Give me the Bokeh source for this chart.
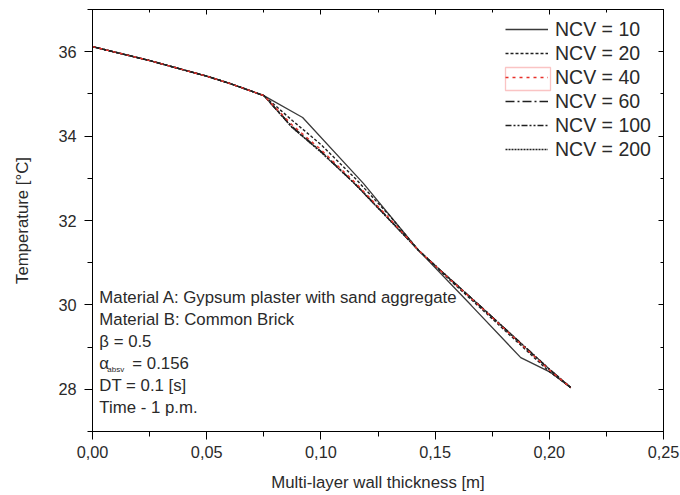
from bokeh.plotting import figure
from bokeh.models import (LinearAxis, SingleIntervalTicker, CustomJSTickFormatter,
                          Legend, LegendItem, Label, BoxAnnotation, Range1d,
                          CustomLabelingPolicy)
from bokeh.embed import file_html
from bokeh.resources import INLINE

# ---------------- data ----------------
x_ncv10 = [0, 0.025, 0.05, 0.06, 0.075, 0.092, 0.1186, 0.1428, 0.1658, 0.1875, 0.2006, 0.2094]
t_ncv10 = [36.12, 35.79, 35.42, 35.25, 34.96, 34.44, 32.88, 31.29, 29.99, 28.75, 28.40, 28.04]

x_fine = [0, 0.025, 0.05, 0.06, 0.075, 0.0875, 0.1, 0.115, 0.13, 0.1428, 0.155, 0.17, 0.185, 0.2, 0.2094]
t_ncv20 = [36.12, 35.79, 35.42, 35.25, 34.96, 34.37, 33.80, 33.00, 32.12, 31.29, 30.66, 29.92, 29.17, 28.42, 28.04]
t_ncv40 = [36.12, 35.79, 35.42, 35.25, 34.96, 34.26, 33.68, 32.90, 32.05, 31.29, 30.68, 29.95, 29.20, 28.46, 28.04]
t_ncv60 = [36.12, 35.79, 35.42, 35.25, 34.96, 34.22, 33.64, 32.87, 32.03, 31.29, 30.69, 29.96, 29.21, 28.47, 28.04]
t_ncv100 = [36.12, 35.79, 35.42, 35.25, 34.96, 34.20, 33.63, 32.86, 32.02, 31.29, 30.69, 29.96, 29.22, 28.48, 28.04]
t_ncv200 = [36.12, 35.79, 35.42, 35.25, 34.96, 34.20, 33.62, 32.86, 32.01, 31.29, 30.69, 29.96, 29.22, 28.48, 28.04]

legend_labels = ["NCV = 10", "NCV = 20", "NCV = 40", "NCV = 60", "NCV = 100", "NCV = 200"]

notes = ["Material A: Gypsum plaster with sand aggregate",
         "Material B: Common Brick",
         "\u03b2 = 0.5",
         None,
         "DT = 0.1 [s]",
         "Time - 1 p.m."]
note_y = [30.18, 29.65, 29.13, 28.61, 28.09, 27.57]

FONT = "Liberation Sans"
TXT = "#2a2a2a"

p = figure(width=680, height=495, x_range=Range1d(0, 0.25), y_range=Range1d(27, 37),
           output_backend="svg", toolbar_location=None,
           min_border_left=92, min_border_right=17, min_border_top=9, min_border_bottom=64)
p.xgrid.visible = False
p.ygrid.visible = False
p.outline_line_color = "black"
p.outline_line_width = 1
p.background_fill_color = "white"
p.border_fill_color = "white"

xt = SingleIntervalTicker(interval=0.05, num_minor_ticks=2)
yt = SingleIntervalTicker(interval=2, num_minor_ticks=2)

xa = p.xaxis[0]
xa.ticker = xt
xa.formatter = CustomJSTickFormatter(code="return tick.toFixed(2).replace('.', ',');")
xa.axis_label = "Multi-layer wall thickness [m]"
ya = p.yaxis[0]
ya.ticker = yt
ya.axis_label = "Temperature [\u00b0C]"
for ax in (xa, ya):
    ax.axis_line_color = "black"
    ax.major_tick_line_color = "black"
    ax.minor_tick_line_color = "black"
    ax.major_tick_out = 8
    ax.major_tick_in = 0
    ax.minor_tick_out = 5
    ax.minor_tick_in = 0
    ax.major_label_text_font = FONT
    ax.major_label_text_font_size = "16.3px"
    ax.major_label_text_color = TXT
    ax.axis_label_text_font = FONT
    ax.axis_label_text_font_size = "16.8px"
    ax.axis_label_text_font_style = "normal"
    ax.axis_label_text_color = TXT
xa.major_label_standoff = 6
xa.axis_label_standoff = 12
ya.major_label_standoff = 8
ya.axis_label_standoff = 23

no_labels = CustomLabelingPolicy(code="for (const i of Array.from(indices)) indices.unset(i); return indices;")
for side, tk in (("above", xt), ("right", yt)):
    a = LinearAxis(ticker=tk, major_label_policy=no_labels,
                   major_label_text_font_size="1px", major_label_standoff=0,
                   major_tick_in=5, major_tick_out=0, minor_tick_in=3, minor_tick_out=0,
                   axis_line_color="black", major_tick_line_color="black",
                   minor_tick_line_color="black")
    p.add_layout(a, side)

LC = "#202020"
r10 = p.line(x_ncv10, t_ncv10, line_color="#3a3a3a", line_width=1.3)
r20 = p.line(x_fine, t_ncv20, line_color=LC, line_width=1.4, line_dash="3 2")
r60 = p.line(x_fine, t_ncv60, line_color=LC, line_width=1.5, line_dash="9 3 2 3")
r100 = p.line(x_fine, t_ncv100, line_color=LC, line_width=1.4, line_dash="6 2 2 2 2 2")
r200 = p.line(x_fine, t_ncv200, line_color=LC, line_width=1.3, line_dash="2 1")
r40 = p.line(x_fine, t_ncv40, line_color="#e8302a", line_width=1.4, line_dash="3 4")

items = [LegendItem(label=l, renderers=[r]) for l, r in
         zip(legend_labels, [r10, r20, r40, r60, r100, r200])]
leg = Legend(items=items, location=(413, 270), padding=0, margin=0, spacing=0,
             glyph_width=43, glyph_height=24, label_height=24, label_standoff=7,
             label_text_font=FONT, label_text_font_size="19.5px", label_text_color=TXT,
             border_line_alpha=0, background_fill_alpha=0)
p.add_layout(leg)

p.add_layout(BoxAnnotation(left=413, right=458, bottom=341, top=364,
                           left_units="screen", right_units="screen",
                           bottom_units="screen", top_units="screen",
                           fill_alpha=0, line_color="#f03c3c", line_width=1.3))

for txt, yy in zip(notes, note_y):
    if txt is None:
        continue
    p.add_layout(Label(x=0.003, y=yy, text=txt, text_font=FONT, text_font_size="16.8px",
                       text_color=TXT, text_baseline="middle"))
# alpha with subscript
p.add_layout(Label(x=0.003, y=note_y[3], text="\u03b1", text_font=FONT, text_font_size="16.8px",
                   text_color=TXT, text_baseline="middle"))
p.add_layout(Label(x=0.003, y=note_y[3], x_offset=8, y_offset=-6, text="absv", text_font=FONT,
                   text_font_size="8px", text_color=TXT, text_baseline="middle"))
p.add_layout(Label(x=0.003, y=note_y[3], x_offset=33, text="= 0.156", text_font=FONT,
                   text_font_size="16.8px", text_color=TXT, text_baseline="middle"))

open("out.html", "w").write(file_html(p, INLINE))
